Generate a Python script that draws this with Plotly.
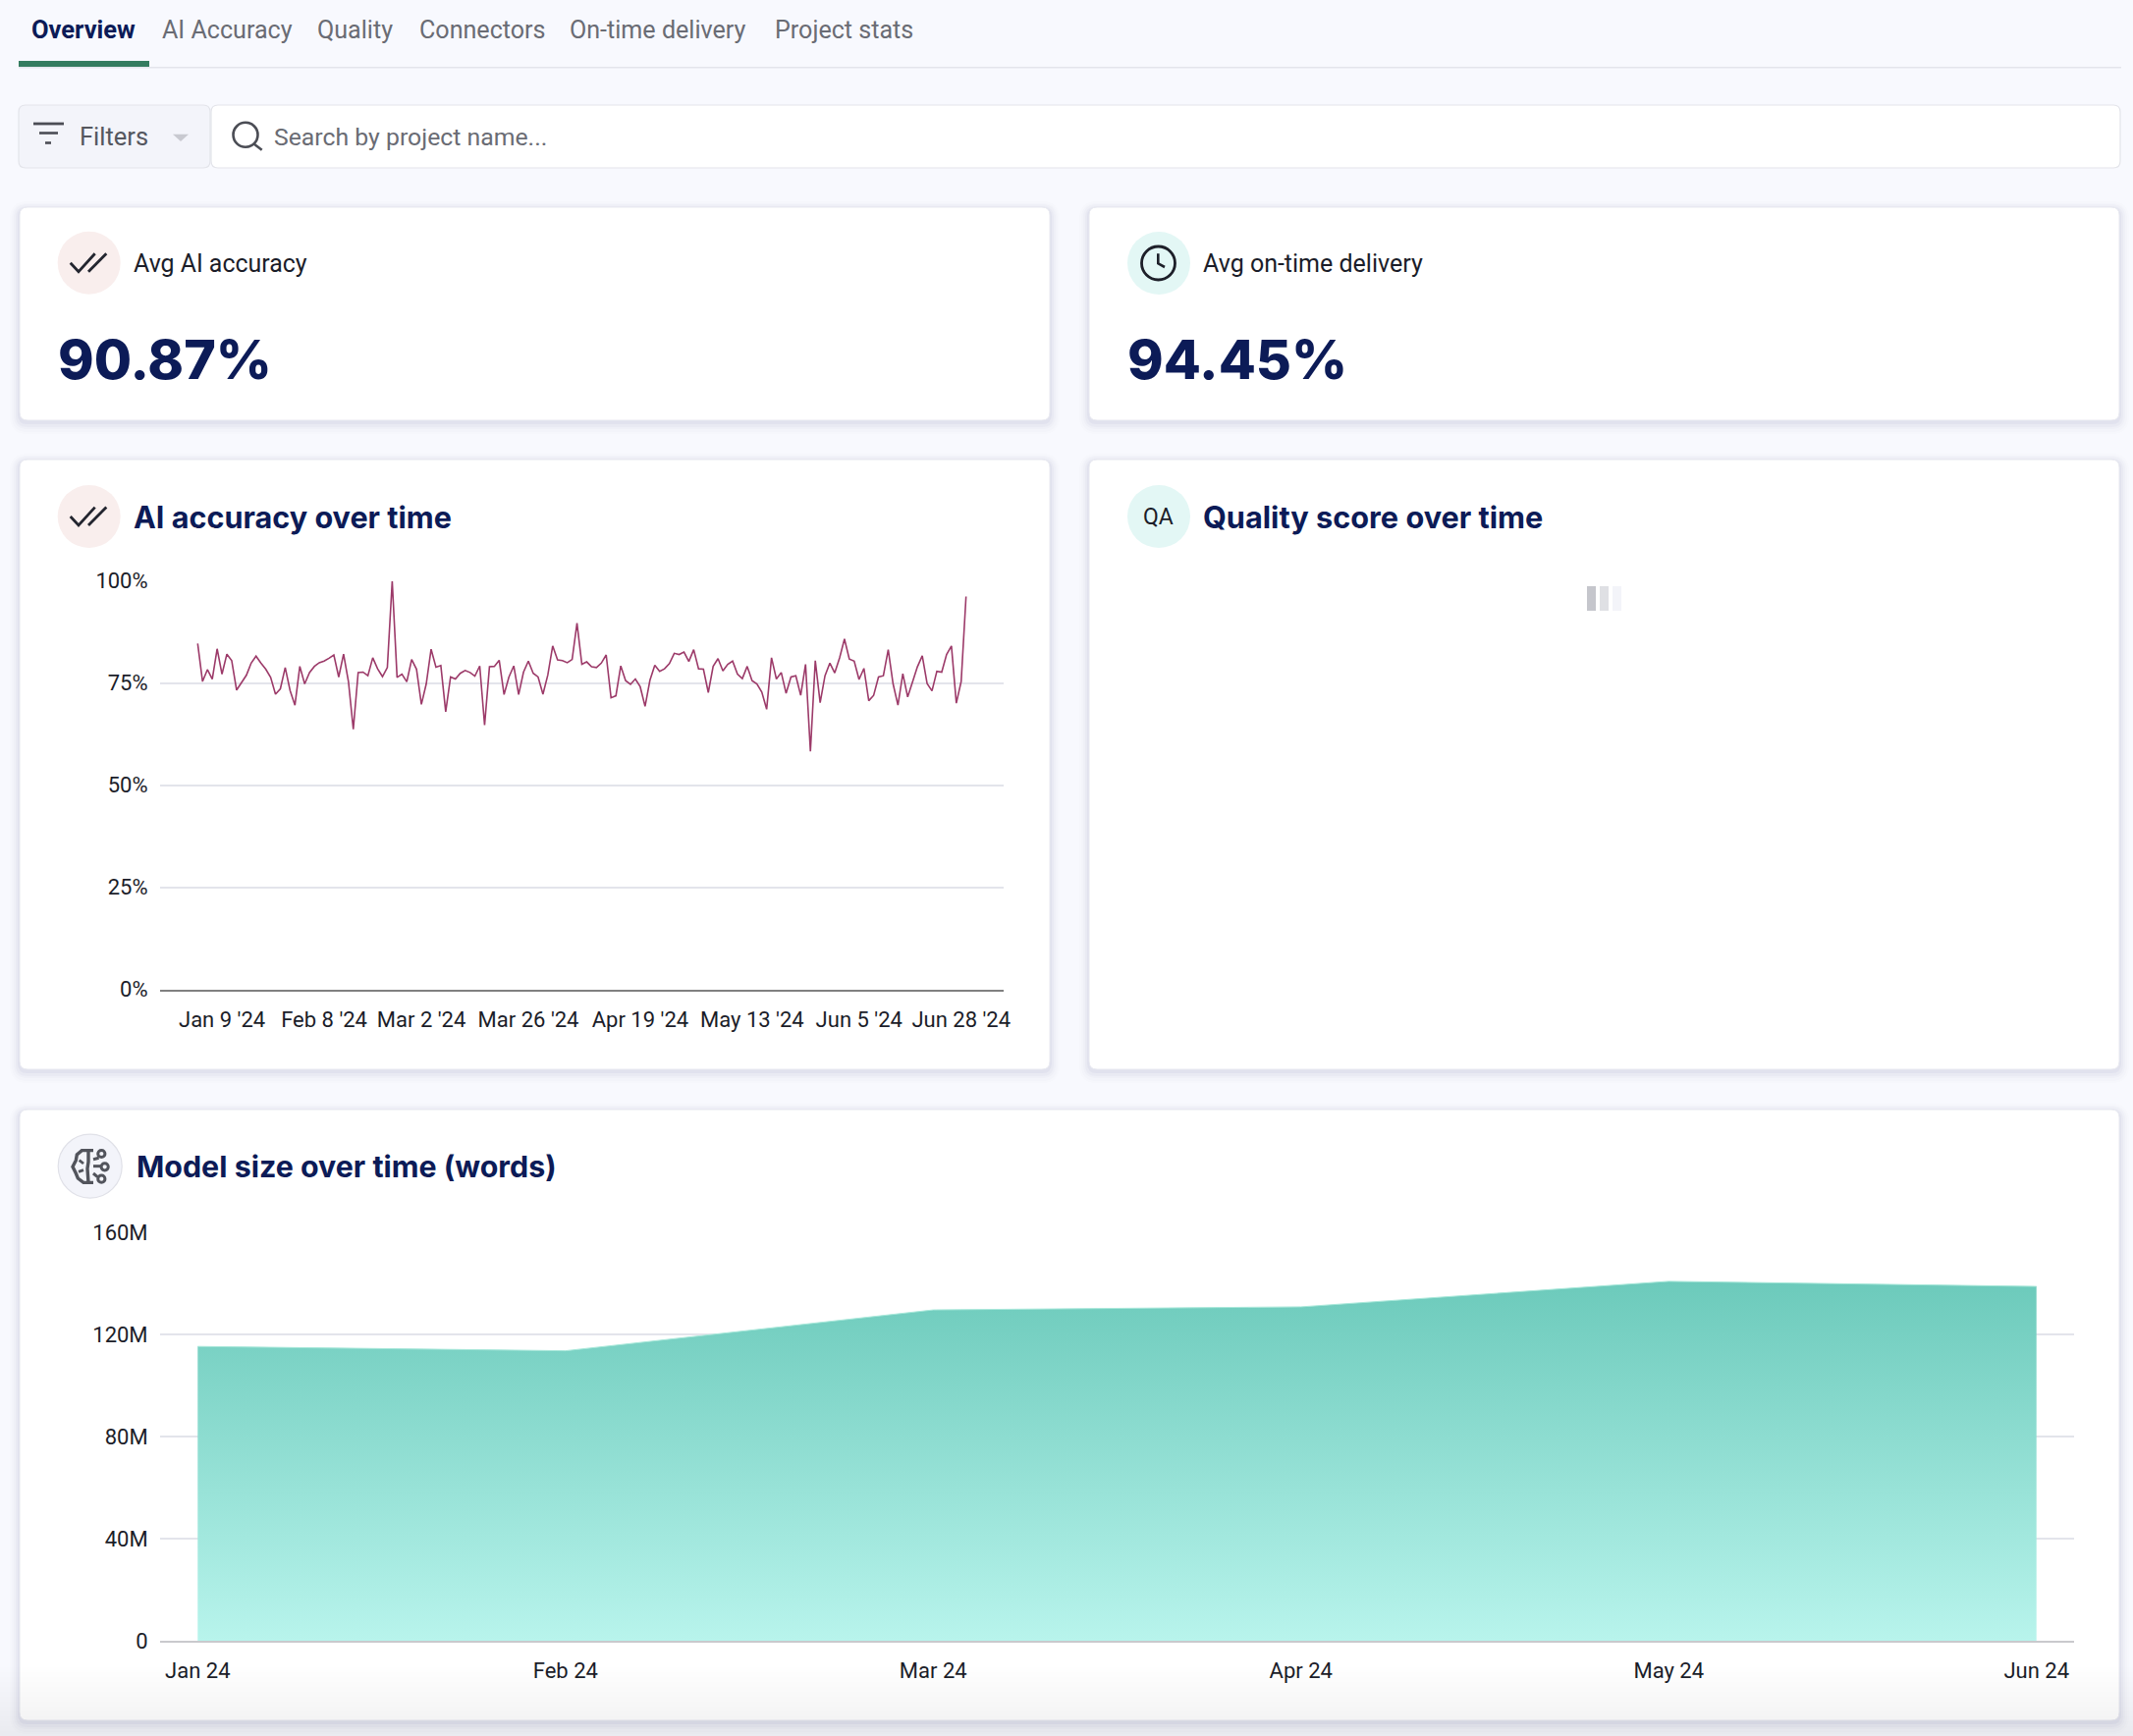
import plotly.graph_objects as go

# ---------- data ----------
accuracy_index = list(range(159))
accuracy_values = [
    84.7, 75.4, 78.3, 76.0, 83.4, 77.2, 82.1, 80.5, 73.3, 75.0, 76.9, 79.9, 81.6, 79.9, 78.4, 76.4,
    72.3, 73.6, 78.8, 73.2, 69.6, 79.1, 74.8, 77.6, 79.1, 80.0, 80.4, 81.1, 81.9, 76.5, 82.1, 75.4,
    63.7, 77.6, 77.7, 76.8, 81.2, 78.5, 76.6, 78.8, 100.0, 76.4, 77.2, 75.3, 80.8, 78.4, 69.8, 74.8,
    83.3, 78.9, 79.3, 68.0, 76.5, 76.0, 77.4, 78.1, 77.6, 76.7, 79.2, 64.7, 79.0, 79.1, 80.6, 72.2,
    76.5, 79.2, 72.2, 77.7, 80.4, 77.4, 76.5, 72.3, 77.0, 84.1, 80.7, 80.5, 80.0, 80.8, 89.7, 79.6,
    80.2, 79.0, 78.8, 79.9, 81.9, 71.4, 71.9, 79.2, 75.6, 74.7, 76.0, 74.1, 69.3, 75.7, 79.4, 77.9,
    78.5, 79.8, 82.3, 82.0, 82.6, 80.3, 83.2, 78.5, 78.4, 72.7, 79.1, 81.0, 78.0, 79.6, 80.4, 77.2,
    76.1, 79.1, 75.6, 74.8, 72.8, 68.6, 81.2, 76.0, 77.6, 72.5, 76.5, 76.8, 72.0, 79.6, 58.3, 80.5,
    70.2, 76.8, 79.9, 77.5, 81.2, 85.8, 80.9, 80.4, 75.9, 78.6, 70.7, 72.0, 76.5, 76.8, 83.2, 74.8,
    69.6, 77.3, 71.6, 75.3, 79.0, 81.7, 74.9, 73.1, 77.9, 77.7, 82.0, 84.1, 70.1, 75.4, 96.2,
]
accuracy_tick_index = [5, 26, 46, 68, 91, 114, 136, 157]
accuracy_tick_labels = ["Jan 9 '24", "Feb 8 '24", "Mar 2 '24", "Mar 26 '24",
                        "Apr 19 '24", "May 13 '24", "Jun 5 '24", "Jun 28 '24"]
accuracy_y_ticks = [0, 25, 50, 75, 100]
accuracy_y_labels = ["0%", "25%", "50%", "75%", "100%"]

model_months = ["Jan 24", "Feb 24", "Mar 24", "Apr 24", "May 24", "Jun 24"]
model_words = [115.3e6, 113.6e6, 129.6e6, 130.8e6, 140.8e6, 138.8e6]
model_y_ticks = [0, 40e6, 80e6, 120e6, 160e6]

tabs = ["Overview", "AI Accuracy", "Quality", "Connectors", "On-time delivery", "Project stats"]

# ---------- page helpers ----------
W, H = 2172, 1768
NAVY, GREY, INK = "#0c1b57", "#6a6c74", "#1b1d29"
TICK_FONT = "Roboto"
UI_FONT = "Roboto"
HEAD_FONT = "Inter"

def X(x): return x / W
def Y(y): return 1 - y / H

shapes, annots = [], []

def rrect(x0, y0, x1, y1, r=8, fill="white", line=None, lw=1, opacity=1, layer="below"):
    p = (f"M{X(x0+r)},{Y(y0)} L{X(x1-r)},{Y(y0)} Q{X(x1)},{Y(y0)} {X(x1)},{Y(y0+r)} "
         f"L{X(x1)},{Y(y1-r)} Q{X(x1)},{Y(y1)} {X(x1-r)},{Y(y1)} L{X(x0+r)},{Y(y1)} "
         f"Q{X(x0)},{Y(y1)} {X(x0)},{Y(y1-r)} L{X(x0)},{Y(y0+r)} Q{X(x0)},{Y(y0)} {X(x0+r)},{Y(y0)} Z")
    shapes.append(dict(type="path", xref="paper", yref="paper", path=p, fillcolor=fill, opacity=opacity,
                       line=dict(color=line or "rgba(0,0,0,0)", width=lw if line else 0), layer=layer))

def rect(x0, y0, x1, y1, fill):
    shapes.append(dict(type="rect", xref="paper", yref="paper", x0=X(x0), x1=X(x1), y0=Y(y1), y1=Y(y0),
                       fillcolor=fill, line=dict(width=0), layer="below"))

def circle(cx, cy, r, fill="rgba(0,0,0,0)", line=None, lw=0):
    shapes.append(dict(type="circle", xref="paper", yref="paper", x0=X(cx-r), x1=X(cx+r), y0=Y(cy+r), y1=Y(cy-r),
                       fillcolor=fill, line=dict(color=line or "rgba(0,0,0,0)", width=lw), layer="below"))

def poly(pts, color, lw=2.5, fill=None, close=False):
    p = "M" + " L".join(f"{X(a)},{Y(b)}" for a, b in pts) + (" Z" if close else "")
    shapes.append(dict(type="path", xref="paper", yref="paper", path=p, fillcolor=fill or "rgba(0,0,0,0)",
                       line=dict(color=color, width=lw), layer="below"))

def text(x, y, s, size, color, family=UI_FONT, weight=400, anchor="left"):
    annots.append(dict(xref="paper", yref="paper", x=X(x), y=Y(y), text=s, showarrow=False, xanchor=anchor,
                       yanchor="middle", borderpad=0, font=dict(family=family, size=size, color=color, weight=weight)))

def card(x0, y0, x1, y1):
    for grow, drop, alpha in [(10, 4, .012), (8, 4, .016), (6, 3, .02), (4, 3, .03), (2, 2, .04)]:
        rrect(x0-grow, y0-grow+drop, x1+grow, y1+grow+drop, r=8+grow, fill=f"rgba(50,60,120,{alpha})")
    rrect(x0, y0, x1, y1, fill="white", line="#e8e9f0", lw=1)

def check_icon(dy):
    circle(90.7, 267.7+dy, 32, fill="#f9eeed")
    poly([(71.7, 267.7+dy), (80, 276.7+dy), (96.7, 258.3+dy)], "#23252f", 2.8)
    poly([(90, 276.7+dy), (108.3, 258.3+dy)], "#23252f", 2.8)

# ---------- page furniture ----------
tab_x = [31, 164, 322, 426, 579, 788]
for i, (t, x) in enumerate(zip(tabs, tab_x)):
    text(x, 30, t, 25.5 if i == 0 else 25.1, NAVY if i == 0 else GREY, weight=700 if i == 0 else 400)
rect(19, 68, 2160, 69.5, "#e4e5ec")
rect(19, 62, 152, 68, "#347c60")

rrect(19, 107, 214, 171, r=7, fill="#f3f4fa", line="#e3e4ea", lw=1.2)
rrect(215, 107, 2159, 171, r=7, fill="white", line="#e3e4ea", lw=1.2)
poly([(34, 126), (65, 126)], "#4b4d55", 2.8)
poly([(40, 135.5), (59, 135.5)], "#4b4d55", 2.6)
poly([(46, 145.5), (52, 145.5)], "#4b4d55", 2.6)
text(80, 139, "Filters", 25.5, "#55575f")
poly([(176, 136.7), (192, 136.7), (184, 144)], "#c8c9d0", 0, fill="#c8c9d0", close=True)
circle(250, 137.3, 12.5, line="#4b4d55", lw=2.6)
poly([(258.5, 146.5), (266.7, 152.7)], "#4b4d55", 2.6)
text(278, 139.6, "Search by project name...", 24.8, GREY)

card(20, 211, 1069, 428)
card(1109, 211, 2158, 428)
card(20, 468, 1069, 1089)
card(1109, 468, 2158, 1089)
card(20, 1130, 2158, 1752)

for i in range(14):
    rect(0, 1698+i*5, W, H, "rgba(40,40,70,0.0028)")

check_icon(0)
text(135, 268, "Avg AI accuracy", 24.9, INK)
text(58, 366, "90.87%", 55.5, NAVY, family=HEAD_FONT, weight=800)

circle(1180, 268, 32, fill="#e3f7f5")
circle(1179.5, 268, 17, line="#1d1f29", lw=2.8)
poly([(1179.3, 258.3), (1179.3, 268.3), (1186, 272)], "#1d1f29", 2.6)
text(1224, 268, "Avg on-time delivery", 25, INK)
text(1147, 366, "94.45%", 55.5, NAVY, family=HEAD_FONT, weight=800)

check_icon(258.3)
text(135, 526, "AI accuracy over time", 30.6, NAVY, family=HEAD_FONT, weight=700)
circle(1180, 526, 32, fill="#e3f7f5")
text(1180, 526, "QA", 23, INK, anchor="center", weight=400)
text(1224, 526, "Quality score over time", 30.7, NAVY, family=HEAD_FONT, weight=700)
for x0, c in [(1616, "#c5c6cc"), (1629, "#dfe0e4"), (1642, "#f3f4f9")]:
    rect(x0, 597, x0+9, 622, c)

circle(91.7, 1187.7, 32.5, fill="#f3f4fa", line="#e0e1e8", lw=1.2)
def B(a, b): return (40 + a/3, 1140 + b/3)
BR = "#52545c"
poly([B(*p) for p in [(165,95),(130,95),(115,108),(112,125),(102,145),(112,165),(118,180),(135,193),(165,193)]], BR, 3.4)
poly([B(*p) for p in [(150,95),(150,130),(147,150),(150,193)]], BR, 3.4)
poly([B(*p) for p in [(122,125),(135,135)]], BR, 2.8)
poly([B(*p) for p in [(120,160),(135,155)]], BR, 2.8)
poly([B(*p) for p in [(165,122),(182,118)]], BR, 3)
poly([B(*p) for p in [(165,143),(190,143)]], BR, 3)
poly([B(*p) for p in [(165,165),(178,176)]], BR, 3)
for c in [(190,105),(200,145),(190,182)]:
    circle(*B(*c), 3.6, line=BR, lw=3)
text(138, 1187.5, "Model size over time (words)", 30.4, NAVY, family=HEAD_FONT, weight=700)

# ---------- charts ----------
fig = go.Figure()
fig.add_trace(go.Scatter(x=accuracy_index, y=accuracy_values, mode="lines", xaxis="x", yaxis="y",
                         line=dict(color="#9c3a69", width=1.6), cliponaxis=False, hoverinfo="skip"))
fig.add_trace(go.Scatter(x=model_months, y=model_words, mode="lines", xaxis="x2", yaxis="y2", fill="tozeroy",
                         line=dict(color="#a9e8da", width=1),
                         fillgradient=dict(type="vertical", colorscale=[[0, "#b8f4ec"], [1, "#6ccabb"]]),
                         hoverinfo="skip"))

tickfont = dict(family=TICK_FONT, size=22, color=INK)
step1 = (983.7 - 201.3) / 158
step2 = (2073.7 - 201.3) / 5
fig.update_layout(
    width=W, height=H, margin=dict(l=0, r=0, t=0, b=0, pad=0, autoexpand=False), autosize=False, showlegend=False,
    paper_bgcolor="#f8f9fe", plot_bgcolor="rgba(0,0,0,0)",
    shapes=shapes, annotations=annots,
    xaxis=dict(domain=[X(163), X(1022)], anchor="y", range=[-(201.3-163)/step1, 158+(1022-983.7)/step1],
               tickmode="array", tickvals=accuracy_tick_index, ticktext=accuracy_tick_labels, tickangle=0,
               showgrid=False, zeroline=False, showline=True, linecolor="#808080", linewidth=1.6,
               ticks="outside", ticklen=10, tickcolor="rgba(0,0,0,0)", tickfont=tickfont),
    yaxis=dict(domain=[Y(1007.7), Y(591.7)], anchor="x", range=[0, 100], tickmode="array",
               tickvals=accuracy_y_ticks, ticktext=accuracy_y_labels, showgrid=True, gridcolor="#e3e4eb", gridwidth=1.6,
               zeroline=False, showline=False, ticks="outside", ticklen=7, tickcolor="rgba(0,0,0,0)", tickfont=tickfont),
    xaxis2=dict(domain=[X(163), X(2112)], anchor="y2", type="category", categoryorder="array", categoryarray=model_months,
                range=[-(201.3-163)/step2, 5+(2112-2073.7)/step2], tickangle=0,
                showgrid=False, zeroline=False, showline=True, linecolor="#c9c9cd", linewidth=1.6,
                ticks="outside", ticklen=10, tickcolor="rgba(0,0,0,0)", tickfont=tickfont),
    yaxis2=dict(domain=[Y(1671), Y(1255)], anchor="x2", range=[0, 160e6], tickmode="array",
                tickvals=model_y_ticks, tickformat="~s", showgrid=True, gridcolor="#e3e4eb", gridwidth=1.6,
                zeroline=False, showline=False, ticks="outside", ticklen=7, tickcolor="rgba(0,0,0,0)", tickfont=tickfont),
)

fig.write_html("out.html", config=dict(displayModeBar=False),
               post_script="document.body.style.margin='0';document.body.style.overflow='hidden';")
